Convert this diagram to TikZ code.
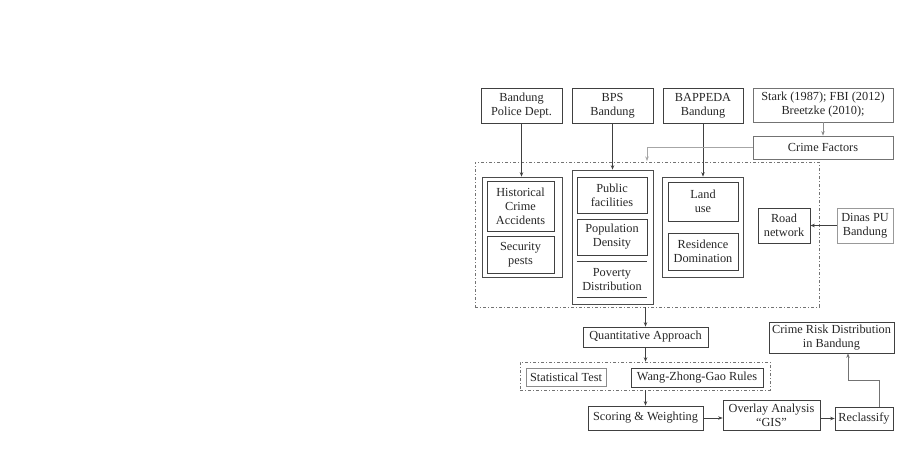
\documentclass[tikz,border=0pt]{standalone}
\usepackage{fontspec}
\setmainfont{Liberation Serif}
\usetikzlibrary{arrows.meta}
\newcommand\bxn[7][]{\node[bx,#1,minimum width={(#5-#3)*1pt},minimum height={(#6-#4)*1pt}]
  (#2) at ({(#3+#5)/2},{(#4+#6)/2}) {#7};}
\begin{document}
\begin{tikzpicture}[x=1pt,y=-1pt,
  bx/.style={draw=black!75, line width=0.7pt, inner sep=0pt, align=center,
    font=\fontsize{12.3}{14}\selectfont, text=black!85},
  grp/.style={draw=black!70, line width=0.7pt},
  dgrp/.style={draw=black!55, dash pattern=on 3pt off 2pt on 1pt off 2pt, line width=0.6pt},
  arr/.style={draw=black!75, line width=0.7pt, -{Stealth[length=4.5pt,width=3.5pt]}},
  garr/.style={draw=black!35, line width=0.7pt, -{Stealth[length=4.5pt,width=3.5pt]}},
]
\useasboundingbox (0,0) rectangle (904,460);

% top sources
\bxn{police}{481}{88}{562}{123}{Bandung\\Police Dept.}
\bxn{bps}{572}{88}{653}{123}{BPS\\Bandung}
\bxn{bappeda}{663}{88}{743}{123}{BAPPEDA\\Bandung}
\bxn[draw=black!55]{stark}{753}{88}{893}{122}{Stark (1987); FBI (2012)\\Breetzke (2010);}
\bxn[draw=black!55]{cf}{753}{136}{893}{159}{Crime Factors}

% dashed data region
\bxn[dgrp]{dbox}{475}{162}{819}{307}{}

% police group
\bxn[grp]{histg}{482}{177}{562}{277}{}
\bxn{hist}{487}{181}{554}{231}{Historical\\Crime\\Accidents}
\bxn{sec}{487}{236}{554}{273}{Security\\pests}

% bps group
\bxn[grp]{bpsg}{572}{170}{653}{304}{}
\bxn[line width=0.9pt]{pub}{577}{177}{647}{213}{Public\\facilities}
\bxn[line width=0.9pt]{pop}{577}{219}{647}{255}{Population\\Density}
\bxn[draw=none]{pov}{577}{262}{647}{297}{Poverty\\Distribution}
\draw[black!75, line width=0.8pt] (pov.north west) -- (pov.north east);
\draw[black!75, line width=0.8pt] (pov.south west) -- (pov.south east);

% bappeda group
\bxn[grp]{bapg}{662}{177}{743}{277}{}
\bxn{land}{668}{182}{738}{221}{Land\\use}
\bxn{res}{668}{233}{738}{270}{Residence\\Domination}

% road network
\bxn{road}{758}{208}{810}{243}{Road\\network}
\bxn[draw=black!40]{dinas}{837}{208}{893}{243}{Dinas PU\\Bandung}

% analysis chain
\bxn{quant}{583}{327}{708}{347}{Quantitative Approach}
\bxn[dgrp]{dbox2}{520}{362}{770}{390}{}
\bxn[draw=black!45]{stat}{526}{368}{606}{386}{Statistical Test}
\bxn{wang}{631}{368}{763}{387}{Wang-Zhong-Gao Rules}
\bxn{score}{588}{406}{703}{430}{Scoring \& Weighting}
\bxn{overlay}{723}{400}{820}{430}{Overlay Analysis\\“GIS”}
\bxn{reclass}{835}{407}{893}{430}{Reclassify}
\bxn{crisk}{769}{322}{894}{353}{Crime Risk Distribution\\in Bandung}

% connectors
\draw[arr] (police.south) -- (police.south |- histg.north);
\draw[arr] (bps.south) -- (bps.south |- bpsg.north);
\draw[arr] (bappeda.south) -- (bappeda.south |- bapg.north);
\draw[arr, draw=black!45] (stark.south) -- (cf.north);
\coordinate (cfbend) at (647,147.5);
\coordinate (cfend) at (647,161);
\draw[garr] (cf.west) -- (cfbend) -- (cfend);
\draw[arr] (dinas.west) -- (road.east);
\draw[arr] (quant.north |- dbox.south) -- (quant.north);
\draw[arr] (quant.south) -- (quant.south |- dbox2.north);
\draw[arr] (score.north |- dbox2.south) -- (score.north);
\draw[arr] (score.east) -- (overlay.west |- score.east);
\draw[arr] (overlay.east |- reclass.west) -- (reclass.west);
\coordinate (r1) at (879,380);
\coordinate (r2) at (848,380);
\draw[arr, draw=black!55] (reclass.north -| r1) -- (r1) -- (r2) -- (r2 |- crisk.south);
\end{tikzpicture}
\end{document}
